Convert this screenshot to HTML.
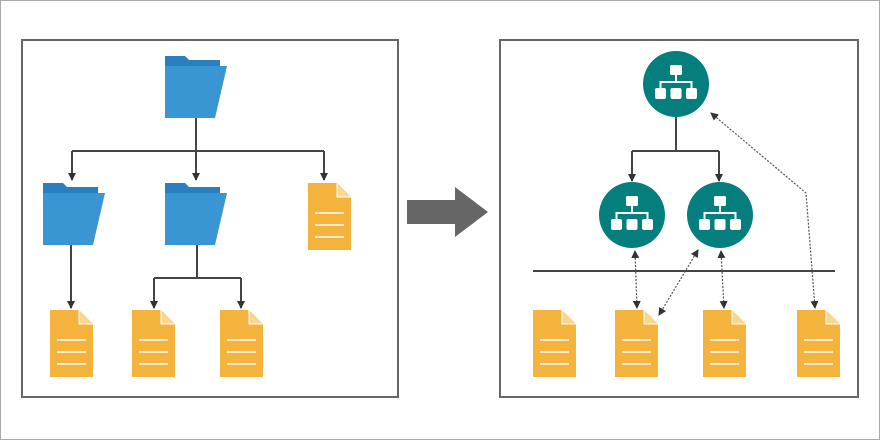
<!DOCTYPE html>
<html><head><style>body{margin:0;background:#fff}svg{display:block}</style></head><body>
<svg width="880" height="440" viewBox="0 0 880 440" xmlns="http://www.w3.org/2000/svg">
<defs>
<marker id="a" markerWidth="8" markerHeight="8" refX="7" refY="4" orient="auto" markerUnits="userSpaceOnUse"><path d="M0,0 L8,4 L0,8 Z" fill="#333"/></marker>
<marker id="s" markerWidth="8" markerHeight="8" refX="1" refY="4" orient="auto" markerUnits="userSpaceOnUse"><path d="M8,0 L0,4 L8,8 Z" fill="#333"/></marker>
<g id="folder">
<path d="M0,0 H20 L24,4 H55 V11 H0 Z" fill="#2a7fc0"/>
<path d="M0,10 H62 L50,62 H0 Z" fill="#3a96d2"/>
</g>
<g id="doc">
<path d="M0,0 H29 L43,14 V67 H0 Z" fill="#f4b33d"/>
<path d="M29,0 V14 H43" fill="#f8d790" stroke="#fff" stroke-width="1"/>
<g stroke="#fff" stroke-width="1.5"><line x1="7" y1="30" x2="36" y2="30"/><line x1="7" y1="42" x2="36" y2="42"/><line x1="7" y1="54" x2="36" y2="54"/></g>
</g>
<g id="org">
<circle r="33" fill="#047f7d"/>
<g fill="#fff"><rect x="-6" y="-19" width="12" height="10" rx="1.5"/><rect x="-21" y="4" width="11" height="11" rx="2"/><rect x="-5.5" y="4" width="11" height="11" rx="2"/><rect x="10" y="4" width="11" height="11" rx="2"/></g>
<path d="M0,-9 V-2 M-15.5,4 V-2 H15.5 V4" stroke="#fff" stroke-width="2" fill="none"/>
</g>
</defs>
<rect x="0.5" y="0.5" width="879" height="439" fill="#fff" stroke="#aaa"/>
<rect x="22" y="40" width="376" height="357" fill="none" stroke="#666" stroke-width="2"/>
<rect x="500" y="40" width="358" height="357" fill="none" stroke="#666" stroke-width="2"/>
<use href="#folder" x="165" y="56"/>
<use href="#folder" x="43" y="183"/>
<use href="#folder" x="165" y="183"/>
<use href="#doc" x="308" y="183"/>
<use href="#doc" x="50" y="310"/>
<use href="#doc" x="132" y="310"/>
<use href="#doc" x="220" y="310"/>
<g stroke="#444" stroke-width="2" fill="none">
<path d="M196,118 V151 M72,151 H324"/>
<path d="M72,151 V180" marker-end="url(#a)"/>
<path d="M196,151 V180" marker-end="url(#a)"/>
<path d="M324,151 V180" marker-end="url(#a)"/>
<path d="M71,245 V308" marker-end="url(#a)"/>
<path d="M197,245 V278 M154,278 H241"/>
<path d="M154,278 V308" marker-end="url(#a)"/>
<path d="M241,278 V308" marker-end="url(#a)"/>
</g>
<path d="M407,200 H455 V187 L488,212 L455,237 V224 H407 Z" fill="#666"/>
<use href="#org" x="676" y="84"/>
<use href="#org" x="632" y="215"/>
<use href="#org" x="720" y="215"/>
<g stroke="#444" stroke-width="2" fill="none">
<path d="M676,117 V151 M632,151 H719"/>
<path d="M632,151 V181" marker-end="url(#a)"/>
<path d="M719,151 V181" marker-end="url(#a)"/>
<path d="M533,271 H835"/>
</g>
<use href="#doc" x="533" y="310"/>
<use href="#doc" x="615" y="310"/>
<use href="#doc" x="703" y="310"/>
<use href="#doc" x="797" y="310"/>
<g stroke="#555" stroke-width="1.2" stroke-dasharray="2,1.5" fill="none">
<path d="M635,251 L637,308" marker-start="url(#s)" marker-end="url(#a)"/>
<path d="M698,250 L659,315" marker-start="url(#s)" marker-end="url(#a)"/>
<path d="M721,251 L724,308" marker-start="url(#s)" marker-end="url(#a)"/>
<path d="M711,113 L806,193 L815,308" marker-start="url(#s)" marker-end="url(#a)"/>
</g>
</svg>
</body></html>
